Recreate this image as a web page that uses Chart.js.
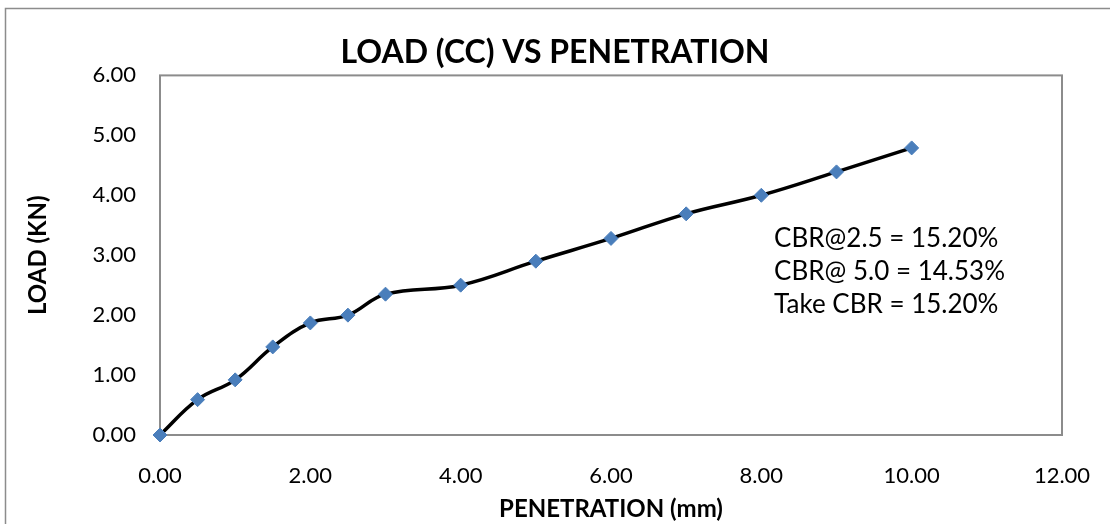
<!DOCTYPE html>
<html>
<head>
<meta charset="utf-8">
<script src="https://cdn.jsdelivr.net/npm/chart.js@4/dist/chart.umd.min.js"></script>
<style>
  html, body { margin: 0; padding: 0; background: #fff; }
  #wrap { width: 1110px; height: 524px; position: relative; }
</style>
</head>
<body>
<div id="wrap"><canvas id="cbrChart"></canvas></div>
<script>
// penetration (mm) and load (kN)
const penetration = [0, 0.5, 1.0, 1.5, 2.0, 2.5, 3.0, 4.0, 5.0, 6.0, 7.0, 8.0, 9.0, 10.0]
const load        = [0, 0.59, 0.92, 1.47, 1.87, 2.00, 2.35, 2.50, 2.90, 3.28, 3.69, 4.00, 4.39, 4.79]

const noteLines = ['CBR@2.5 = 15.20%', 'CBR@ 5.0 = 14.53%', 'Take CBR = 15.20%']
const noteAnchor = { x: 8.17, y: 3.28 }

const FONT = 'Lato, "Liberation Sans", sans-serif'

// frame around the whole chart + box around plot area + text note
const framePlugin = {
  id: 'framePlugin',
  beforeDraw(chart) {
    const c = chart.ctx
    c.save()
    c.strokeStyle = '#8c8c8c'
    c.lineWidth = 1.5
    c.strokeRect(5.5, 8.5, chart.width + 20, chart.height + 20)
    c.restore()
  },
  beforeDatasetsDraw(chart) {
    const a = chart.chartArea
    const c = chart.ctx
    c.save()
    c.strokeStyle = '#8c8c8c'
    c.lineWidth = 2
    c.strokeRect(a.left, a.top, a.right - a.left, a.bottom - a.top)
    c.restore()
  },
  afterDatasetsDraw(chart) {
    const c = chart.ctx
    const x = chart.scales.x.getPixelForValue(noteAnchor.x)
    const y = chart.scales.y.getPixelForValue(noteAnchor.y)
    c.save()
    c.fillStyle = '#000'
    c.font = '26px ' + FONT
    c.textBaseline = 'middle'
    noteLines.forEach((t, i) => c.fillText(t, x, y + i * 33))
    c.restore()
  }
}

const ctx = document.getElementById('cbrChart').getContext('2d')

let chart_data = {
  datasets: [
    {
      label: 'Load',
      data: penetration.map((p, i) => ({ x: p, y: load[i] })),
      borderColor: '#000000',
      borderWidth: 3.5,
      tension: 0.4,
      fill: false,
      clip: false,
      pointStyle: 'rectRot',
      pointRadius: 7,
      pointBackgroundColor: '#4a7ebb',
      pointBorderColor: '#4a7ebb',
      pointBorderWidth: 1
    }
  ]
}

let scales_chart = {
  x: {
    type: 'linear',
    min: 0,
    max: 12,
    afterFit: (s) => { s.height = 89; s.paddingRight = 48 },
    ticks: {
      stepSize: 2,
      color: '#000',
      padding: 20,
      font: { family: FONT, size: 22 },
      callback: (v) => v.toFixed(2)
    },
    grid: { display: false },
    border: { display: false },
    title: {
      display: true,
      text: 'PENETRATION (mm)',
      color: '#000',
      font: { family: FONT, size: 24, weight: 'bold' },
      padding: { top: 1, bottom: 0 }
    }
  },
  y: {
    min: 0,
    max: 6,
    afterFit: (s) => { s.width = 160 },
    ticks: {
      stepSize: 1,
      color: '#000',
      padding: 16,
      font: { family: FONT, size: 22 },
      callback: (v) => v.toFixed(2)
    },
    grid: { display: false },
    border: { display: false },
    title: {
      display: true,
      text: 'LOAD (KN)',
      color: '#000',
      font: { family: FONT, size: 24, weight: 'bold' },
      padding: { top: 24, bottom: 0 }
    }
  }
}

new Chart(ctx, {
  type: 'line',
  data: chart_data,
  options: {
    responsive: true,
    maintainAspectRatio: false,
    animation: false,
    layout: { padding: { left: 0, right: 0, top: 0, bottom: 0 } },
    plugins: {
      legend: { display: false },
      tooltip: { enabled: false },
      title: {
        display: true,
        text: 'LOAD (CC) VS PENETRATION',
        color: '#000',
        font: { family: FONT, size: 32, weight: 'bold' },
        padding: { top: 33, bottom: 4 }
      }
    },
    scales: scales_chart
  },
  plugins: [framePlugin]
})
</script>
</body>
</html>
